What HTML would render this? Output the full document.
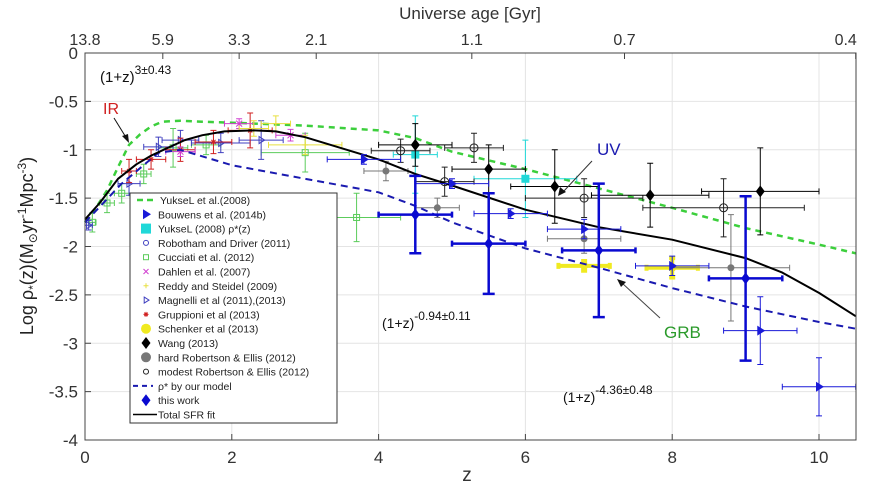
<!DOCTYPE html>
<html><head><meta charset="utf-8">
<style>
body{margin:0;background:#fff;}
svg{display:block;font-family:"Liberation Sans","DejaVu Sans",sans-serif;}
</style></head>
<body>
<svg id="chart" width="873" height="486" viewBox="0 0 873 486" xmlns="http://www.w3.org/2000/svg">
<rect x="0" y="0" width="873" height="486" fill="#fff"/>
<g id="grid"></g>
<g id="series"></g>
<rect x="85" y="53" width="771" height="387" fill="none" stroke="#444" stroke-width="1"/>
<g id="axes"></g>
<text x="467" y="481" font-size="19" fill="#333" text-anchor="middle">z</text>
<text x="470" y="19" font-size="17" fill="#333" text-anchor="middle">Universe age [Gyr]</text>
<text transform="translate(33,246) rotate(-90)" font-size="18" fill="#222" text-anchor="middle">Log ρ<tspan font-size="12" dy="4">*</tspan><tspan dy="-4">(z)(M</tspan><tspan font-size="12" dy="4">⊙</tspan><tspan dy="-4">yr</tspan><tspan font-size="12" dy="-7">-1</tspan><tspan dy="7">Mpc</tspan><tspan font-size="12" dy="-7">-3</tspan><tspan dy="7">)</tspan></text>
<g>
<text x="100" y="82" font-size="15" fill="#111">(1+z)<tspan dy="-8" font-size="12">3±0.43</tspan></text>
<text x="103" y="114" font-size="16" fill="#d02020">IR</text>
<line x1="114" y1="118" x2="127" y2="139" stroke="#111" stroke-width="1"/>
<polygon points="129,143 122,136 128,134" fill="#111"/>
<text x="597" y="155" font-size="17" fill="#1a1ab0">UV</text>
<line x1="592" y1="161" x2="563" y2="192" stroke="#333" stroke-width="1"/>
<polygon points="558,196 560,187 566,192" fill="#111"/>
<text x="664" y="338" font-size="17" fill="#2a9a2a">GRB</text>
<line x1="660" y1="318" x2="622" y2="283" stroke="#444" stroke-width="1"/>
<polygon points="617,279 626,282 621,287" fill="#111"/>
<text x="382" y="328" font-size="14" fill="#111">(1+z)<tspan dy="-8" font-size="12">-0.94±0.11</tspan></text>
<text x="563" y="402" font-size="14" fill="#111">(1+z)<tspan dy="-8" font-size="12">-4.36±0.48</tspan></text>
</g>
<g id="legend"></g>
</svg>
<script>
// ---- data ----
const xTicks=[0,2,4,6,8,10];
const yTicks=[0,-0.5,-1,-1.5,-2,-2.5,-3,-3.5,-4];
const yTickLabels=["0","-0.5","-1","-1.5","-2","-2.5","-3","-3.5","-4"];
const topTickZ=[0,1.06,2.1,3.15,5.27,7.35,10.5];
const topTickLabels=["13.8","5.9","3.3","2.1","1.1","0.7","0.4"];
const yukselZ=[0,0.15,0.3,0.45,0.6,0.75,0.9,1.05,1.3,1.6,2,3,4,4.5,5,6,7,8,9,10,10.5];
const yukselY=[-1.75,-1.6,-1.42,-1.18,-0.95,-0.84,-0.76,-0.71,-0.7,-0.71,-0.72,-0.75,-0.8,-0.88,-1.02,-1.2,-1.4,-1.6,-1.81,-1.98,-2.07];
const totalZ=[0,0.2,0.45,0.7,0.9,1.1,1.36,1.6,1.9,2.3,2.6,3,4,4.5,5,6,7,8,9,9.5,10,10.5];
const totalY=[-1.72,-1.55,-1.3,-1.15,-1.06,-0.99,-0.9,-0.85,-0.81,-0.8,-0.81,-0.87,-1.1,-1.25,-1.37,-1.62,-1.8,-1.93,-2.12,-2.27,-2.48,-2.72];
const modelZ=[0,0.5,1,1.3,2,3,4,4.5,5,6,7,8,9,10,10.5];
const modelY=[-1.75,-1.35,-1.03,-1.0,-1.16,-1.3,-1.44,-1.58,-1.75,-2.02,-2.22,-2.43,-2.62,-2.78,-2.85];
// points: z, y, xerr, yerr
const thisWorkZ=[4.5,5.5,7.0,9.0];
const thisWorkY=[-1.67,-1.97,-2.04,-2.33];
const thisWorkXe=[0.5,0.5,0.5,0.5];
const thisWorkYe=[0.4,0.52,0.69,0.85];
const bouwensZ=[3.8,5.0,5.8,6.8,8.0,9.2,10.0];
const bouwensY=[-1.1,-1.35,-1.66,-1.82,-2.2,-2.87,-3.45];
const bouwensXe=[0.5,0.5,0.5,0.5,0.5,0.5,0.5];
const bouwensYe=[0.05,0.05,0.05,0.1,0.1,0.35,0.3];
const wangZ=[4.5,5.5,6.4,7.7,9.2];
const wangY=[-0.95,-1.2,-1.38,-1.47,-1.43];
const wangXe=[0.5,0.5,0.6,0.8,0.8];
const wangYe=[0.22,0.25,0.38,0.33,0.45];
const modestZ=[4.3,4.9,5.3,6.8,8.7];
const modestY=[-1.01,-1.33,-0.98,-1.5,-1.6];
const modestXe=[0.4,0.4,0.4,0.8,1.1];
const modestYe=[0.12,0.15,0.15,0.2,0.3];
const hardZ=[4.1,4.8,6.8,8.8];
const hardY=[-1.22,-1.6,-1.92,-2.22];
const hardXe=[0.3,0.3,0.5,0.8];
const hardYe=[0.1,0.1,0.15,0.55];
const cyanZ=[4.5,6.0];
const cyanY=[-1.05,-1.3];
const cyanXe=[0.3,0.7];
const cyanYe=[0.4,0.4];
const schenkerZ=[6.8,8.0];
const schenkerY=[-2.2,-2.22];
const schenkerXe=[0.35,0.35];
const schenkerYe=[0.05,0.1];
const cucciatiZ=[0.1,0.3,0.5,0.8,1.2,1.65,3.0,3.7];
const cucciatiY=[-1.75,-1.55,-1.45,-1.25,-0.98,-0.95,-1.03,-1.7];
const cucciatiXe=[0.05,0.1,0.1,0.1,0.2,0.2,0.6,0.6];
const cucciatiYe=[0.1,0.1,0.1,0.1,0.2,0.1,0.2,0.25];
const magnelliZ=[0.05,0.6,1.0,1.3,1.85,2.4];
const magnelliY=[-1.78,-1.35,-0.97,-0.9,-0.93,-0.9];
const magnelliXe=[0.05,0.15,0.2,0.25,0.4,0.3];
const magnelliYe=[0.05,0.12,0.1,0.1,0.1,0.2];
const gruppioniZ=[0.6,0.9,1.3,1.75,2.25];
const gruppioniY=[-1.22,-1.1,-1.0,-0.92,-0.8];
const gruppioniXe=[0.1,0.2,0.2,0.25,0.3];
const gruppioniYe=[0.12,0.1,0.12,0.12,0.18];
const dahlenZ=[1.3,2.1,2.8];
const dahlenY=[-1.02,-0.73,-0.85];
const reddyZ=[2.3,2.6,3.0];
const reddyY=[-0.78,-0.73,-0.95];

// ---- axes ----
const X=z=>85+z*73.4;
const Y=v=>53-v*96.75;
const NS="http://www.w3.org/2000/svg";
function mk(parent,tag,attrs){const e=document.createElementNS(NS,tag);for(const k in attrs)e.setAttribute(k,attrs[k]);parent.appendChild(e);return e;}
const grid=document.getElementById('grid'),axes=document.getElementById('axes'),ser=document.getElementById('series'),leg=document.getElementById('legend');
xTicks.forEach(t=>{
 if(t>0){const g=mk(grid,'line',{x1:X(t),x2:X(t),y1:53,y2:440,stroke:'#e4e4e4'});
 
 }
 const tk=mk(axes,'line',{x1:X(t),x2:X(t),y1:440,y2:434,stroke:'#444'});
 
 
 const l=mk(axes,'text',{x:X(t),y:463,'font-size':17,fill:'#333','text-anchor':'middle'});l.textContent=t;
 
 
});
yTicks.forEach((t,i)=>{
 if(i>0&&i<yTicks.length-1){const g=mk(grid,'line',{x1:85,x2:856,y1:Y(t),y2:Y(t),stroke:'#e4e4e4'});
 
 }
 const tk=mk(axes,'line',{x1:85,x2:91,y1:Y(t),y2:Y(t),stroke:'#444'});
 
 
 const l=mk(axes,'text',{x:78,y:Y(t)+6,'font-size':17,fill:'#333','text-anchor':'end'});l.textContent=yTickLabels[i];
 
 
});
topTickZ.forEach((z,i)=>{
 const tk=mk(axes,'line',{x1:X(z),x2:X(z),y1:53,y2:59,stroke:'#444'});
 
 
 const l=mk(axes,'text',{x:X(z)-(i==6?10:0),y:45,'font-size':16,fill:'#333','text-anchor':'middle'});l.textContent=topTickLabels[i];
 
 
});
// ---- curves ----
function curve(zs,ys,color,dash,w,name){
 const d=zs.map((z,i)=>(i?'L':'M')+X(z).toFixed(1)+' '+Y(ys[i]).toFixed(1)).join(' ');
 const p=mk(ser,'path',{d:d,fill:'none',stroke:color,'stroke-width':w,'stroke-dasharray':dash,'stroke-linejoin':'round'});
 
 
}
// ---- markers ----
function marker(g,type,cx,cy,color,s){
 if(type==='diamond')return mk(g,'polygon',{points:`${cx},${cy-s} ${cx+s*0.75},${cy} ${cx},${cy+s} ${cx-s*0.75},${cy}`,fill:color});
 if(type==='tri')return mk(g,'polygon',{points:`${cx-s*0.6},${cy-s} ${cx+s},${cy} ${cx-s*0.6},${cy+s}`,fill:color});
 if(type==='otri')return mk(g,'polygon',{points:`${cx-s*0.6},${cy-s} ${cx+s},${cy} ${cx-s*0.6},${cy+s}`,fill:'none',stroke:color});
 if(type==='circle')return mk(g,'circle',{cx:cx,cy:cy,r:s,fill:color});
 if(type==='ocircle')return mk(g,'circle',{cx:cx,cy:cy,r:s,fill:'none',stroke:color});
 if(type==='square')return mk(g,'rect',{x:cx-s,y:cy-s,width:2*s,height:2*s,fill:color});
 if(type==='osquare')return mk(g,'rect',{x:cx-s,y:cy-s,width:2*s,height:2*s,fill:'none',stroke:color});
 if(type==='cross')return mk(g,'path',{d:`M${cx-s} ${cy-s}L${cx+s} ${cy+s}M${cx-s} ${cy+s}L${cx+s} ${cy-s}`,stroke:color});
 if(type==='plus')return mk(g,'path',{d:`M${cx-s} ${cy}L${cx+s} ${cy}M${cx} ${cy-s}L${cx} ${cy+s}`,stroke:color});
 if(type==='star')return mk(g,'path',{d:`M${cx-s} ${cy}L${cx+s} ${cy}M${cx} ${cy-s}L${cx} ${cy+s}M${cx-s*0.7} ${cy-s*0.7}L${cx+s*0.7} ${cy+s*0.7}M${cx-s*0.7} ${cy+s*0.7}L${cx+s*0.7} ${cy-s*0.7}`,stroke:color});
}
function points(zs,ys,xe,ye,type,color,s,w,name,cap){
 const g=mk(ser,'g',{});
 
 
 zs.forEach((z,i)=>{
  const cx=X(z),cy=Y(ys[i]);
  if(xe){const x1=X(z-xe[i]),x2=X(z+xe[i]);
   mk(g,'path',{d:`M${x1} ${cy}L${x2} ${cy}M${x1} ${cy-3}L${x1} ${cy+3}M${x2} ${cy-3}L${x2} ${cy+3}`,stroke:color,'stroke-width':w,fill:'none'});}
  if(ye){const y1=Y(ys[i]+ye[i]),y2=Y(ys[i]-ye[i]);const c=cap||3;
   mk(g,'path',{d:`M${cx} ${y1}L${cx} ${y2}M${cx-c} ${y1}L${cx+c} ${y1}M${cx-c} ${y2}L${cx+c} ${y2}`,stroke:color,'stroke-width':w,fill:'none'});}
  const m=marker(g,type,cx,cy,color,s);
  
  
 });
}
curve(yukselZ,yukselY,'#3ccf3c','6 5',2.5,'yuksel-curve');
points(cucciatiZ,cucciatiY,cucciatiXe,cucciatiYe,'osquare','#5ccc5c',3,1,'cucciati-points');
points(magnelliZ,magnelliY,magnelliXe,magnelliYe,'otri','#4040c0',3.5,1,'magnelli-points');
points(gruppioniZ,gruppioniY,gruppioniXe,gruppioniYe,'star','#d02020',3,1,'gruppioni-points');
points(dahlenZ,dahlenY,[0.2,0.2,0.2],[0.05,0.05,0.06],'cross','#d040d0',3,1,'dahlen-points');
points(reddyZ,reddyY,[0.2,0.2,0.5],[0.08,0.08,0.1],'plus','#e8e040',3,1,'reddy-points');
points(cyanZ,cyanY,cyanXe,cyanYe,'square','#20d8d8',4,1,'yuksel-rho-points');
points(schenkerZ,schenkerY,schenkerXe,schenkerYe,'circle','#f0ea20',4,4,'schenker-points');
points(hardZ,hardY,hardXe,hardYe,'circle','#777',3.5,1,'hard-robertson-points');
points(modestZ,modestY,modestXe,modestYe,'ocircle','#222',4,1,'modest-robertson-points');
points(wangZ,wangY,wangXe,wangYe,'diamond','#000',6,1,'wang-points');
curve(modelZ,modelY,'#1a1ab0','7 5',2,'model-curve');
curve(totalZ,totalY,'#000','',2,'total-sfr-fit');
points(bouwensZ,bouwensY,bouwensXe,bouwensYe,'tri','#1a1ad8',5,1,'bouwens-points');
points(thisWorkZ,thisWorkY,thisWorkXe,thisWorkYe,'diamond','#0a0ad0',6,2.5,'this-work-points',6);
// ---- legend ----
const lb=mk(leg,'rect',{x:130,y:193,width:207,height:230,fill:'#fff',stroke:'#333'});


const entries=[
 ['dash','#3ccf3c','YukseL et al.(2008)'],['tri','#1a1ad8',' Bouwens et al. (2014b)'],['square','#20d8d8','YukseL (2008) ρ*(z)'],
 ['ocircle','#4040c0','Robotham and Driver (2011)'],['osquare','#5ccc5c','Cucciati et al. (2012)'],['cross','#d040d0','Dahlen et al. (2007)'],
 ['plus','#e8e040','Reddy and Steidel (2009)'],['otri','#4040c0','Magnelli et al (2011),(2013)'],['star','#d02020','Gruppioni et al (2013)'],
 ['circle','#f0ea20','Schenker et al (2013)'],['diamond','#000','Wang (2013)'],['circle','#777','hard Robertson & Ellis (2012)'],
 ['ocircle','#222','modest Robertson & Ellis (2012)'],['bdash','#1a1ab0','ρ* by our model'],['diamond','#0a0ad0','this work'],['line','#000','Total SFR fit']];
const sizes={tri:5,square:5,ocircle:2.5,osquare:2.5,cross:2.5,plus:2.5,otri:3,star:2.5,circle:5,diamond:6};
entries.forEach((e,i)=>{
 const cy=200+i*14.3;const g=mk(leg,'g',{});
 
 
 if(e[0]==='dash')mk(g,'line',{x1:137,x2:157,y1:cy,y2:cy,stroke:e[1],'stroke-width':2.5,'stroke-dasharray':'6 4'});
 else if(e[0]==='bdash')mk(g,'line',{x1:133,x2:153,y1:cy,y2:cy,stroke:e[1],'stroke-width':2,'stroke-dasharray':'5 4'});
 else if(e[0]==='line')mk(g,'line',{x1:133,x2:157,y1:cy,y2:cy,stroke:e[1],'stroke-width':1.5});
 else marker(g,e[0],146,cy,e[1],sizes[e[0]]);
 const t=mk(g,'text',{x:e[0]==='dash'?160:158,y:cy+4,'font-size':10.5,fill:'#222'});t.textContent=e[2];
});
</script>
</body></html>
